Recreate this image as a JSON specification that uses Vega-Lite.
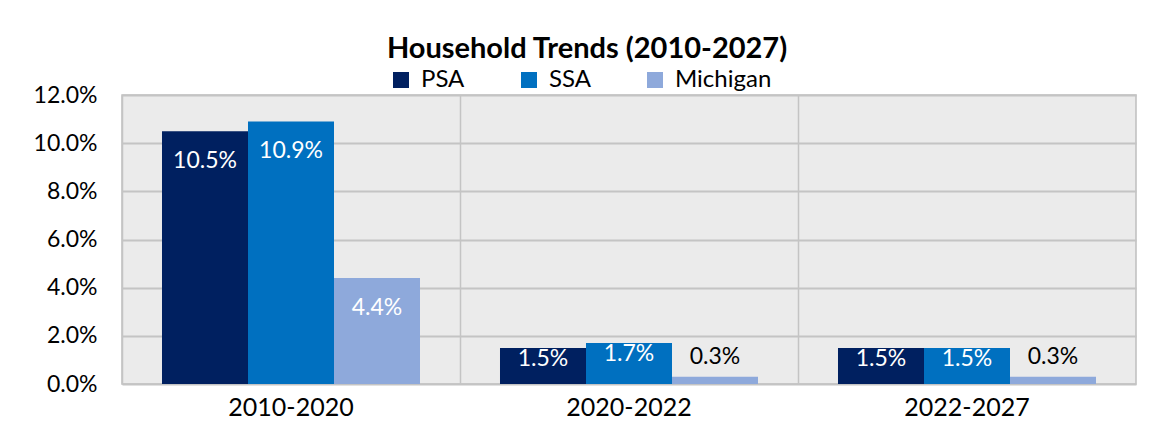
{
  "$schema": "https://vega.github.io/schema/vega-lite/v6.json",
  "width": 1014,
  "height": 289,
  "autosize": {"type": "none"},
  "padding": {"left": 122, "top": 95, "right": 13, "bottom": 47},
  "background": "#FFFFFF",
  "title": {
    "text": "Household Trends (2010-2027)",
    "font": "Lato",
    "fontSize": 29,
    "fontWeight": "bold",
    "color": "#000000",
    "anchor": "middle",
    "dx": -42,
    "offset": 4
  },
  "data": {
    "values": [
      {"period": "2010-2020", "region": "PSA", "value": 0.105},
      {"period": "2010-2020", "region": "SSA", "value": 0.109},
      {"period": "2010-2020", "region": "Michigan", "value": 0.044},
      {"period": "2020-2022", "region": "PSA", "value": 0.015},
      {"period": "2020-2022", "region": "SSA", "value": 0.017},
      {"period": "2020-2022", "region": "Michigan", "value": 0.003},
      {"period": "2022-2027", "region": "PSA", "value": 0.015},
      {"period": "2022-2027", "region": "SSA", "value": 0.015},
      {"period": "2022-2027", "region": "Michigan", "value": 0.003}
    ]
  },
  "encoding": {
    "x": {
      "field": "period",
      "type": "nominal",
      "sort": ["2010-2020", "2020-2022", "2022-2027"],
      "scale": {"paddingInner": 0, "paddingOuter": 0},
      "axis": {
        "title": null,
        "labelAngle": 0,
        "labelFont": "Lato",
        "labelFontSize": 25,
        "labelColor": "#000000",
        "labelPadding": 11,
        "ticks": false,
        "domain": false,
        "grid": true,
        "bandPosition": 0,
        "gridColor": "#C4C4C4",
        "gridWidth": 1.5
      }
    },
    "xOffset": {
      "field": "region",
      "type": "nominal",
      "sort": ["PSA", "SSA", "Michigan"],
      "scale": {"paddingInner": 0, "paddingOuter": 0.465}
    },
    "y": {
      "field": "value",
      "type": "quantitative",
      "scale": {"domain": [0, 0.12], "nice": false},
      "axis": {
        "title": null,
        "values": [0, 0.02, 0.04, 0.06, 0.08, 0.1, 0.12],
        "format": ".1%",
        "labelFont": "Lato",
        "labelFontSize": 23,
        "labelColor": "#000000",
        "labelPadding": 25,
        "ticks": false,
        "domain": false,
        "grid": true,
        "gridColor": "#C4C4C4",
        "gridWidth": 2
      }
    }
  },
  "layer": [
    {
      "mark": {"type": "bar"},
      "encoding": {
        "color": {
          "field": "region",
          "type": "nominal",
          "sort": ["PSA", "SSA", "Michigan"],
          "scale": {"domain": ["PSA", "SSA", "Michigan"], "range": ["#002060", "#0070C0", "#8EA9DB"]},
          "legend": {
            "title": null,
            "orient": "none",
            "direction": "horizontal",
            "legendX": 267,
            "legendY": -27,
            "symbolType": "square",
            "symbolSize": 256,
            "symbolStrokeWidth": 0,
            "labelFont": "Lato",
            "labelFontSize": 24,
            "labelColor": "#000000",
            "labelOffset": 8,
            "columnPadding": 52
          }
        }
      }
    },
    {
      "transform": [{"filter": "datum.value >= 0.03"}],
      "mark": {"type": "text", "color": "#FFFFFF", "font": "Lato", "fontSize": 23, "baseline": "middle", "dy": 30},
      "encoding": {"text": {"field": "value", "type": "quantitative", "format": ".1%"}}
    },
    {
      "transform": [{"filter": "datum.value >= 0.01 && datum.value < 0.03"}],
      "mark": {"type": "text", "color": "#FFFFFF", "font": "Lato", "fontSize": 23, "baseline": "middle", "dy": 11},
      "encoding": {"text": {"field": "value", "type": "quantitative", "format": ".1%"}}
    },
    {
      "transform": [{"filter": "datum.value < 0.01"}],
      "mark": {"type": "text", "color": "#000000", "font": "Lato", "fontSize": 23, "baseline": "middle", "dy": -20},
      "encoding": {"text": {"field": "value", "type": "quantitative", "format": ".1%"}}
    }
  ],
  "config": {
    "view": {"fill": "#EBEBEB", "stroke": "#BFBFBF", "strokeWidth": 1.5},
    "font": "Lato"
  }
}
